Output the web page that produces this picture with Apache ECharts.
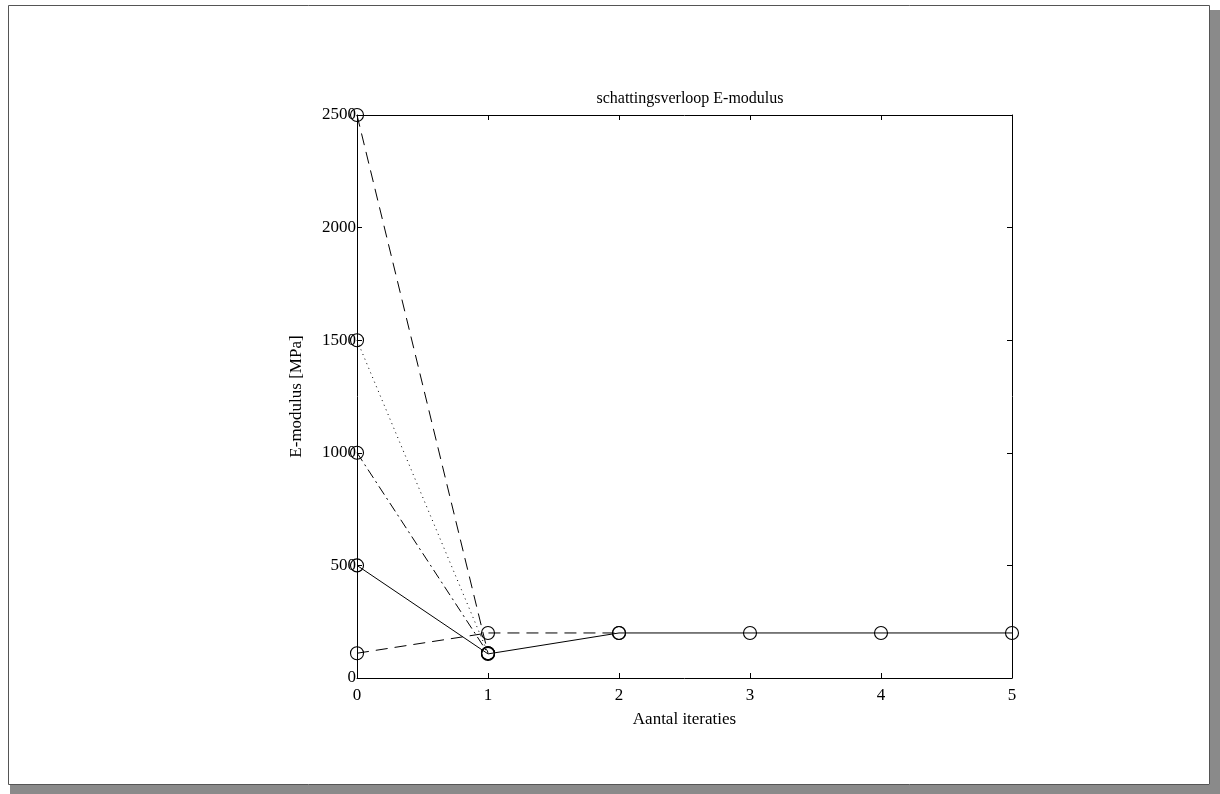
<!DOCTYPE html>
<html><head><meta charset="utf-8">
<script src="https://cdn.jsdelivr.net/npm/echarts@6/dist/echarts.min.js"></script>
<style>html,body{margin:0;padding:0;background:#fff}#c{width:1220px;height:794px}</style>
</head><body><div id="c"></div>
<script>
const iterations = [0, 1, 2, 3, 4, 5];
const xTicks = ['0','1','2','3','4','5'];
const yTicks = [0, 500, 1000, 1500, 2000, 2500];
const solidSeries = [500, 107, 200, 200, 200, 200];
const dashedLow = [110, 200, 200];
const dashDot1000 = [1000, 110];
const dotted1500 = [1500, 110];
const dashed2500 = [2500, 110];
const titleText = 'schattingsverloop E-modulus';
const xName = 'Aantal iteraties';
const yName = 'E-modulus [MPa]';

const font = 'Liberation Serif, Times New Roman, serif';
function pairs(arr){ return arr.map((v,i)=>[iterations[i], v]); }
function mk(name, arr, type){
  return { name, type:'line', data:pairs(arr), symbol:'circle', symbolSize:13,
    itemStyle:{color:'rgba(0,0,0,0)', borderColor:'#000', borderWidth:1.1},
    lineStyle:{color:'#000', width:1, type:type}, z:3, animation:false };
}
const chart = echarts.init(document.getElementById('c'), null, {renderer:'canvas'});
const axisCommon = {
  type:'value', min:0,
  axisLine:{show:true, onZero:false, lineStyle:{color:'#000', width:1}},
  axisTick:{show:true, inside:true, length:5, lineStyle:{color:'#000'}},
  splitLine:{show:false}
};
chart.setOption({
  backgroundColor:'#fff',
  animation:false,
  title:{text:titleText, left:685, top:86, textAlign:'center',
    textStyle:{fontFamily:font, fontSize:16, fontWeight:'normal', color:'#000'}},
  grid:{left:357, right:208, top:115, bottom:116, containLabel:false},
  xAxis:[
    Object.assign({}, axisCommon, {position:'bottom', max:5, interval:1,
      axisLabel:{fontFamily:font, fontSize:17, color:'#000', margin:9,
        formatter:(v)=>xTicks[v]},
      name:xName, nameLocation:'middle', nameGap:33,
      nameTextStyle:{fontFamily:font, fontSize:17, color:'#000'}}),
    Object.assign({}, axisCommon, {position:'top', max:5, interval:1, axisLabel:{show:false}})
  ],
  yAxis:[
    Object.assign({}, axisCommon, {position:'left', max:2500, interval:500,
      axisLabel:{fontFamily:font, fontSize:17, color:'#000', margin:1,
        formatter:(v)=> yTicks.includes(v) ? String(v) : ''},
      name:yName, nameLocation:'middle', nameGap:52, nameRotate:90,
      nameTextStyle:{fontFamily:font, fontSize:17, color:'#000'}}),
    Object.assign({}, axisCommon, {position:'right', max:2500, interval:500, axisLabel:{show:false}})
  ],
  series:[
    mk('s2500', dashed2500, [12,7]),
    mk('s1500', dotted1500, [1,4]),
    mk('s1000', dashDot1000, [10,4,2,4]),
    mk('s110', dashedLow, [12,7]),
    mk('s500', solidSeries, 'solid')
  ],
  graphic:[
    {type:'rect', shape:{x:8.5, y:5.5, width:1201, height:779}, style:{fill:null, stroke:'#555', lineWidth:1}, z:-1},
    {type:'rect', shape:{x:10, y:785, width:1210, height:9}, style:{fill:'#8a8a8a'}, z:-1},
    {type:'rect', shape:{x:1210, y:10, width:10, height:784}, style:{fill:'#8a8a8a'}, z:-1}
  ]
});
</script></body></html>
